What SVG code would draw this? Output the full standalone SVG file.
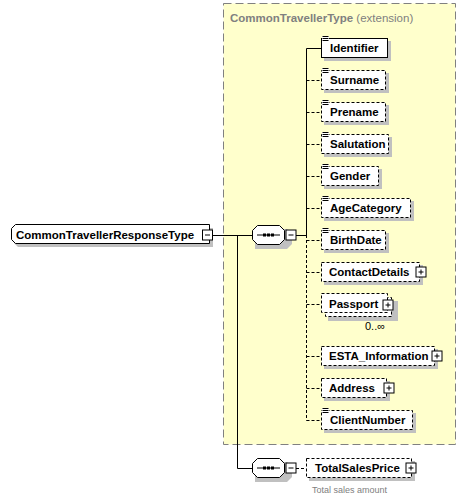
<svg xmlns="http://www.w3.org/2000/svg" width="466" height="500" viewBox="0 0 466 500">
<defs>
<style>
.t{font-family:"Liberation Sans",Arial,sans-serif;font-size:11.5px;font-weight:bold;fill:#000}
.g{font-family:"Liberation Sans",Arial,sans-serif;fill:#808080}
.box{fill:#fff;stroke:#000;stroke-width:1}
.opt{stroke-dasharray:3,2}
.sh{fill:#c0c0c0}
.ln{stroke:#000;stroke-width:1;fill:none}
.dl{stroke:#000;stroke-width:1;fill:none;stroke-dasharray:3,2}
.pm{fill:#fff;stroke:#000;stroke-width:1}
</style>
<g id="plus"><rect class="pm" x="0.5" y="0.5" width="10" height="10"/><path d="M3 5.5H8M5.5 3V8" class="ln"/></g>
<g id="minus"><rect class="pm" x="0.5" y="0.5" width="10" height="10"/><path d="M3 5.5H8" class="ln"/></g>
<g id="icon"><rect x="0" y="0" width="7" height="6" fill="#fff"/><path d="M0.5 0.5H6.5M0.5 2.5H6.5M0.5 4.5H6.5" class="ln"/></g>
<g id="seq">
<path d="M4 4 H36 L41 9 V19 L36 24 H4" class="sh"/>
<path d="M6.5 0.5 H28.5 L33.5 5.5 V14.5 L28.5 19.5 H6.5 L1.5 14.5 V5.5 Z" class="box"/>
<path d="M6 10 H29" class="ln"/>
<rect x="12" y="8.5" width="3" height="3"/><rect x="16" y="8.5" width="3" height="3"/><rect x="20" y="8.5" width="3" height="3"/>
</g>
</defs>

<g id="extension">
<rect x="223.5" y="3.5" width="232" height="441" fill="#ffffcc" stroke="#808080" stroke-dasharray="8,4"/>
<text x="230" y="22" class="g" font-size="11.5px"><tspan font-weight="bold">CommonTravellerType</tspan> (extension)</text>
</g>

<g id="connectors">
<path d="M213 235.5 H252" class="ln"/>
<path d="M237.5 235 V468.5 H252" class="ln"/>
<path d="M296 235.5 H306.5" class="ln"/>
<path d="M306.5 235 V48.5 H321" class="ln"/>
<path d="M306.5 235 V420.5" class="dl"/>
<path d="M306.5 80.5 H321 M306.5 112.5 H321 M306.5 144.5 H321 M306.5 176.5 H321 M306.5 208.5 H321 M306.5 240.5 H321 M306.5 272.5 H321 M306.5 304.5 H321 M306.5 356.5 H321 M306.5 388.5 H321 M306.5 420.5 H321" class="dl"/>
<path d="M296 468.5 H306" class="dl"/>
</g>

<g id="root">
<path d="M18 228 H213 V247 H18 L14 243 V232 Z" class="sh"/>
<path d="M15.5 224.5 H209.5 V243.5 H15.5 L11.5 239.5 V228.5 Z" class="box"/>
<text x="16" y="239" class="t">CommonTravellerResponseType</text>
<use href="#minus" x="202" y="229.5"/>
</g>

<g id="sequence1"><use href="#seq" x="251" y="225"/><use href="#minus" x="285.5" y="229.5"/></g>
<g id="sequence2"><use href="#seq" x="251" y="458"/><use href="#minus" x="285.5" y="462.5"/></g>

<g id="Identifier">
<rect class="sh" x="324" y="41" width="67" height="20"/>
<rect class="box" x="321.5" y="38.5" width="66" height="19"/>
<use href="#icon" x="322" y="36"/>
<text x="330" y="52" class="t">Identifier</text>
</g>
<g id="Surname">
<rect class="sh" x="324" y="73" width="65" height="20"/>
<rect class="box opt" x="321.5" y="70.5" width="64" height="19"/>
<use href="#icon" x="322" y="68"/>
<text x="330" y="84" class="t">Surname</text>
</g>
<g id="Prename">
<rect class="sh" x="324" y="105" width="65" height="20"/>
<rect class="box opt" x="321.5" y="102.5" width="64" height="19"/>
<use href="#icon" x="322" y="100"/>
<text x="330" y="116" class="t">Prename</text>
</g>
<g id="Salutation">
<rect class="sh" x="324" y="137" width="68" height="20"/>
<rect class="box opt" x="321.5" y="134.5" width="67" height="19"/>
<use href="#icon" x="322" y="132"/>
<text x="330" y="148" class="t">Salutation</text>
</g>
<g id="Gender">
<rect class="sh" x="324" y="169" width="58" height="20"/>
<rect class="box opt" x="321.5" y="166.5" width="57" height="19"/>
<use href="#icon" x="322" y="164"/>
<text x="330" y="180" class="t">Gender</text>
</g>
<g id="AgeCategory">
<rect class="sh" x="324" y="201" width="90" height="20"/>
<rect class="box opt" x="321.5" y="198.5" width="89" height="19"/>
<use href="#icon" x="322" y="196"/>
<text x="330" y="212" class="t">AgeCategory</text>
</g>
<g id="BirthDate">
<rect class="sh" x="324" y="233" width="65" height="20"/>
<rect class="box opt" x="321.5" y="230.5" width="64" height="19"/>
<use href="#icon" x="322" y="228"/>
<text x="330" y="244" class="t">BirthDate</text>
</g>
<g id="ContactDetails">
<rect class="sh" x="324" y="265" width="99" height="20"/>
<rect class="box opt" x="321.5" y="262.5" width="98" height="19"/>
<text x="329" y="276" class="t">ContactDetails</text>
<use href="#plus" x="415.5" y="266.5"/>
</g>
<g id="Passport">
<rect class="sh" x="328" y="301" width="70" height="20"/>
<rect class="box opt" x="325.5" y="297.5" width="66" height="19"/>
<rect class="box opt" x="321.5" y="293.5" width="66" height="19"/>
<text x="329" y="308" class="t">Passport</text>
<use href="#plus" x="382.5" y="299.5"/>
<text x="365" y="330" font-family="'Liberation Sans',Arial,sans-serif" font-size="11px" fill="#000">0..∞</text>
</g>
<g id="ESTA_Information">
<rect class="sh" x="324" y="349" width="114" height="20"/>
<rect class="box opt" x="321.5" y="346.5" width="113" height="19"/>
<text x="329" y="360" class="t">ESTA_Information</text>
<use href="#plus" x="431.5" y="350.5"/>
</g>
<g id="Address">
<rect class="sh" x="324" y="381" width="66" height="20"/>
<rect class="box opt" x="321.5" y="378.5" width="65" height="19"/>
<text x="329" y="392" class="t">Address</text>
<use href="#plus" x="383.5" y="382.5"/>
</g>
<g id="ClientNumber">
<rect class="sh" x="324" y="413" width="92" height="20"/>
<rect class="box opt" x="321.5" y="410.5" width="91" height="19"/>
<use href="#icon" x="322" y="408"/>
<text x="330" y="424" class="t">ClientNumber</text>
</g>
<g id="TotalSalesPrice">
<rect class="sh" x="309" y="461" width="106" height="20"/>
<rect class="box opt" x="306.5" y="458.5" width="105" height="19"/>
<text x="315" y="472" class="t">TotalSalesPrice</text>
<use href="#plus" x="405.5" y="462.5"/>
<text x="312" y="493" class="g" font-size="9px">Total sales amount</text>
</g>
</svg>
